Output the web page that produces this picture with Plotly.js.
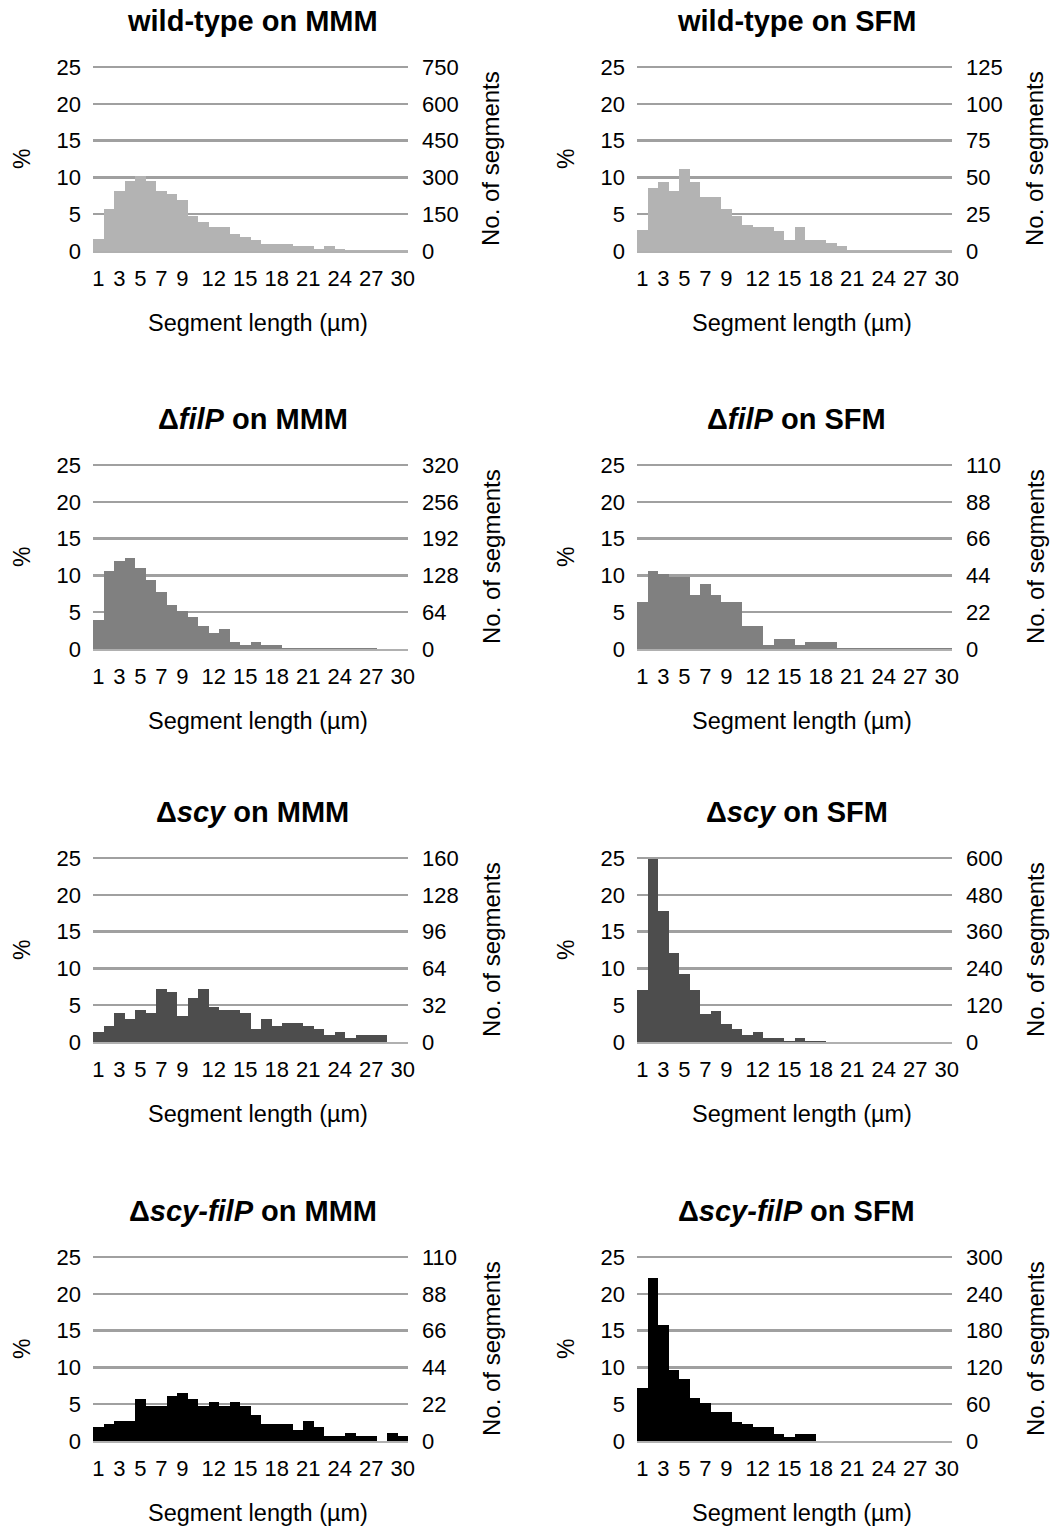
<!DOCTYPE html>
<html><head><meta charset="utf-8">
<script src="https://cdn.plot.ly/plotly-3.0.1.min.js"></script>
<style>html,body{margin:0;padding:0;background:#fff}</style>
</head><body><div id="chart" style="width:1051px;height:1528px"></div>
<script>
const lengths = [1,2,3,4,5,6,7,8,9,10,11,12,13,14,15,16,17,18,19,20,21,22,23,24,25,26,27,28,29,30];
const xTickVals = [1,3,5,7,9,12,15,18,21,24,27,30];
const pctTicks = [0,5,10,15,20,25];

const pctWtMMM    = [1.6,5.7,8.2,9.5,10.2,9.5,8.2,7.8,6.9,4.7,4.0,3.2,3.2,2.3,1.9,1.5,1.0,1.0,1.0,0.65,0.65,0.25,0.65,0.25,0.15,0.15,0.15,0.15,0.15,0.15];
const pctWtSFM    = [2.8,8.6,9.4,8.2,11.1,9.4,7.4,7.4,5.7,4.8,3.6,3.2,3.2,2.7,1.5,3.2,1.5,1.5,1.1,0.65,0.2,0.2,0.2,0.2,0.2,0.2,0.2,0.2,0.2,0.2];
const pctFilMMM   = [4.0,10.6,11.9,12.3,11.0,9.4,7.7,6.0,5.2,4.3,3.1,2.2,2.7,1.0,0.55,1.0,0.55,0.55,0.15,0.15,0.15,0.15,0.15,0.15,0.15,0.15,0.15,0,0,0];
const pctFilSFM   = [6.4,10.6,10.2,9.8,9.8,7.3,8.9,7.3,6.4,6.4,3.1,3.1,0.55,1.4,1.4,0.55,1.0,1.0,1.0,0.15,0.15,0.15,0.15,0.15,0.15,0.15,0.15,0.15,0.15,0.15];
const pctScyMMM   = [1.4,2.2,3.9,3.1,4.3,3.9,7.2,6.8,3.5,6.0,7.2,4.7,4.3,4.3,3.9,1.8,3.1,2.2,2.6,2.6,2.2,1.8,1.0,1.4,0.55,1.0,1.0,1.0,0,0];
const pctScySFM   = [7.0,24.8,17.8,12.1,9.2,7.0,3.8,4.2,2.5,1.7,0.9,1.3,0.5,0.5,0.1,0.5,0.1,0.1,0.05,0.05,0.05,0.05,0.05,0.05,0.05,0.05,0.05,0.05,0.05,0.05];
const pctScyFilMMM= [1.9,2.3,2.7,2.7,5.7,4.8,4.8,6.1,6.5,5.7,4.8,5.3,4.8,5.3,4.8,3.6,2.3,2.3,2.3,1.5,2.7,1.9,0.65,0.65,1.1,0.65,0.65,0,1.1,0.65];
const pctScyFilSFM= [7.2,22.1,15.8,9.6,8.4,5.9,5.1,3.9,3.9,2.65,2.25,1.85,1.85,1.0,0.6,1.0,1.0,0.05,0.05,0.05,0.05,0.05,0.05,0.05,0.05,0.05,0.05,0.05,0.05,0.05];

const panelTitles = ['<b>wild-type on MMM</b>','<b>wild-type on SFM</b>',
  '<b>Δ<i>filP</i> on MMM</b>','<b>Δ<i>filP</i> on SFM</b>',
  '<b>Δ<i>scy</i> on MMM</b>','<b>Δ<i>scy</i> on SFM</b>',
  '<b>Δ<i>scy-filP</i> on MMM</b>','<b>Δ<i>scy-filP</i> on SFM</b>'];
const rightMax = [750,125,320,110,160,600,110,300];
const panelPct = [pctWtMMM,pctWtSFM,pctFilMMM,pctFilSFM,pctScyMMM,pctScySFM,pctScyFilMMM,pctScyFilSFM];
const barColors = ['#b3b3b3','#b3b3b3','#808080','#808080','#4d4d4d','#4d4d4d','#000000','#000000'];

const W = 1051, H = 1528;
const colX = [[93,408],[637,952]];
const rowY = [[67,251],[465,649],[858,1042],[1257,1441]];
const PAD = 3; // px of headroom above the 25% gridline so it is drawn
const FONT = '"Liberation Sans", Arial, sans-serif';
const TICK = 22;

const data = [];
const layout = {
  width: W, height: H, margin:{l:0,r:0,t:0,b:0},
  paper_bgcolor:'#fff', plot_bgcolor:'#fff', showlegend:false, bargap:0,
  font:{family:FONT, color:'#000', size:TICK},
  annotations: []
};

for (let i = 0; i < 8; i++) {
  const col = i % 2, row = Math.floor(i / 2);
  const xn = i + 1, yl = 2*i + 1, yr = 2*i + 2;
  const xs = xn === 1 ? 'x' : 'x' + xn;
  const yls = yl === 1 ? 'y' : 'y' + yl;
  const yrs = 'y' + yr;
  const hpx = rowY[row][1] - rowY[row][0];
  const scale = (hpx + PAD) / hpx;
  const dx = [colX[col][0]/W, colX[col][1]/W];
  const dy = [1 - rowY[row][1]/H, 1 - (rowY[row][0] - PAD)/H];

  data.push({type:'bar', x: lengths, y: panelPct[i], xaxis: xs, yaxis: yls,
    marker:{color: barColors[i], line:{width:0}}, hoverinfo:'x+y'});
  const counts = panelPct[i].map(p => p * rightMax[i] * 4 / 100);
  data.push({type:'scatter', mode:'none', x: lengths, y: counts, xaxis: xs, yaxis: yrs, hoverinfo:'skip'});

  layout['xaxis' + (xn === 1 ? '' : xn)] = {
    domain: dx, anchor: yls, range:[0.5,30.5], tickmode:'array', tickvals: xTickVals,
    ticktext: xTickVals.map(String), ticks:'', showgrid:false, zeroline:false,
    showline:true, linecolor:'#b0b0b0', linewidth:2, ticklabelstandoff: 7,
    tickfont:{size:TICK, family:FONT}, fixedrange:true
  };
  layout['yaxis' + (yl === 1 ? '' : yl)] = {
    domain: dy, anchor: xs, range:[0, 25 * scale], tickmode:'array', tickvals: pctTicks,
    ticks:'', showgrid:true, gridcolor:'#a0a0a0', gridwidth:2.5, zeroline:false,
    showline:false, ticklabelstandoff: 11, tickfont:{size:TICK, family:FONT}, fixedrange:true
  };
  const rticks = [0,1,2,3,4,5].map(k => k * rightMax[i] / 5);
  layout['yaxis' + yr] = {
    domain: dy, anchor: xs, overlaying: yls, side:'right', range:[0, rightMax[i] * scale],
    tickmode:'array', tickvals: rticks, ticks:'', showgrid:false, zeroline:false,
    showline:false, ticklabelstandoff: 13, tickfont:{size:TICK, family:FONT}, fixedrange:true
  };

  const cx = (colX[col][0] + colX[col][1]) / 2 / W;
  const cy = 1 - (rowY[row][0] + rowY[row][1]) / 2 / H;
  layout.annotations.push({text: panelTitles[i], xref:'paper', yref:'paper',
    x: cx + 2/W, y: 1 - (rowY[row][0] - 46)/H, xanchor:'center', yanchor:'middle', showarrow:false,
    font:{size:29, family:FONT}});
  layout.annotations.push({text:'Segment length (µm)', xref:'paper', yref:'paper',
    x: cx + 7/W, y: 1 - (rowY[row][1] + 72)/H, xanchor:'center', yanchor:'middle', showarrow:false,
    font:{size:23.5, family:FONT}});
  layout.annotations.push({text:'%', xref:'paper', yref:'paper', textangle:-90,
    x: (colX[col][0] - 71)/W, y: cy, xanchor:'center', yanchor:'middle', showarrow:false,
    font:{size:23, family:FONT}});
  layout.annotations.push({text:'No. of segments', xref:'paper', yref:'paper', textangle:-90,
    x: (colX[col][1] + 83)/W, y: cy, xanchor:'center', yanchor:'middle', showarrow:false,
    font:{size:24, family:FONT}});
}

Plotly.newPlot('chart', data, layout, {staticPlot:true, displayModeBar:false});
</script></body></html>
